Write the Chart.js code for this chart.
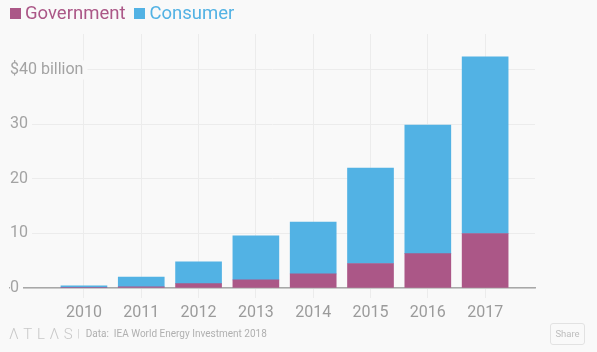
<!DOCTYPE html>
<html>
<head>
<meta charset="utf-8">
<script src="https://cdn.jsdelivr.net/npm/chart.js@4"></script>
<style>
  html, body { margin:0; padding:0; background:#f9f9f9; width:597px; height:352px; overflow:hidden; font-family: Roboto, "Liberation Sans", sans-serif; }
  #wrap { position:absolute; left:0; top:0; width:597px; height:330px; }
  #legend { position:absolute; left:10px; top:1px; font-size:18.5px; line-height:24px; white-space:nowrap; }
  #legend span.item { margin-right:9px; }
  #legend i { display:inline-block; width:11px; height:11px; margin-right:4px; vertical-align:0px; }
  #footer { position:absolute; left:9px; top:325px; height:18px; white-space:nowrap; color:#b0b0b0; font-size:10px; line-height:18px; }
  #logo { font-size:15px; letter-spacing:4.6px; color:#c8c8c8; font-weight:300; vertical-align:middle; }
  #sep { color:#d0d0d0; margin:0 6px 0 0; vertical-align:middle; }
  #share { position:absolute; left:550px; top:323px; width:35px; height:22px; border:1px solid #e2e2e2; border-radius:3px; font-size:9.5px; color:#bdbdbd; text-align:center; line-height:20px; box-sizing:border-box; }
</style>
</head>
<body>
<div id="wrap"><canvas id="c" width="597" height="330"></canvas></div>
<div id="legend"></div>
<div id="footer"><span id="logo">ΛTLΛS</span><span id="sep">|</span><span>Data:&nbsp; IEA World Energy Investment 2018</span></div>
<div id="share">Share</div>
<script>
const years = [2010, 2011, 2012, 2013, 2014, 2015, 2016, 2017];
const government = [0.05, 0.2, 0.8, 1.5, 2.6, 4.5, 6.3, 10.0];
const consumer = [0.35, 1.8, 4.0, 8.05, 9.5, 17.5, 23.6, 32.4];
const yTicks = [0, 10, 20, 30, 40];
const seriesNames = ['Government', 'Consumer'];
const seriesColors = ['#ab5787', '#52b2e4'];

document.getElementById('legend').innerHTML = seriesNames.map((n, i) =>
  '<span class="item" style="color:' + seriesColors[i] + '"><i style="background:' + seriesColors[i] + '"></i>' + n + '</span>'
).join('');

const toPts = arr => years.map((yr, i) => ({ x: yr, y: arr[i] }));

new Chart(document.getElementById('c'), {
  type: 'bar',
  data: {
    datasets: [
      { label: seriesNames[0], data: toPts(government), backgroundColor: seriesColors[0], barThickness: 46 },
      { label: seriesNames[1], data: toPts(consumer), backgroundColor: seriesColors[1], barThickness: 46 }
    ]
  },
  options: {
    responsive: false,
    animation: false,
    layout: { padding: { top: 34, left: 10, right: 62, bottom: 0 } },
    plugins: { legend: { display: false }, tooltip: { enabled: false } },
    scales: {
      x: {
        type: 'linear',
        stacked: true,
        offset: false,
        min: 2008.71,
        max: 2017.87,
        afterBuildTicks: s => { s.ticks = years.map(v => ({ value: v })); },
        afterFit: s => { s.height = 42; s.paddingLeft = 0; s.paddingRight = 0; },
        grid: { offset: false, color: '#ececec', lineWidth: 1, tickLength: 10, drawTicks: true, tickColor: '#ececec' },
        border: { display: true, color: '#a8a8a8', width: 1.5 },
        ticks: { color: '#9b9b9b', font: { family: 'Roboto', size: 16 }, padding: 5, callback: v => String(v), maxRotation: 0, autoSkip: false }
      },
      y: {
        stacked: true,
        min: 0,
        max: 46.6,
        afterBuildTicks: s => { s.ticks = yTicks.map(v => ({ value: v })); },
        afterFit: s => { s.width = 0; s.paddingTop = 0; s.paddingBottom = 0; },
        grid: { color: '#ececec', lineWidth: 1, drawTicks: false },
        border: { display: false },
        ticks: {
          z: 1,
          mirror: true,
          padding: 0,
          color: '#a3a3a3',
          font: { family: 'Roboto', size: 16 },
          showLabelBackdrop: true,
          backdropColor: '#f9f9f9',
          backdropPadding: { left: 0, right: 4, top: 0, bottom: 0 },
          callback: v => v === 40 ? '$40 billion' : String(v)
        }
      }
    }
  }
});
</script>
</body>
</html>
